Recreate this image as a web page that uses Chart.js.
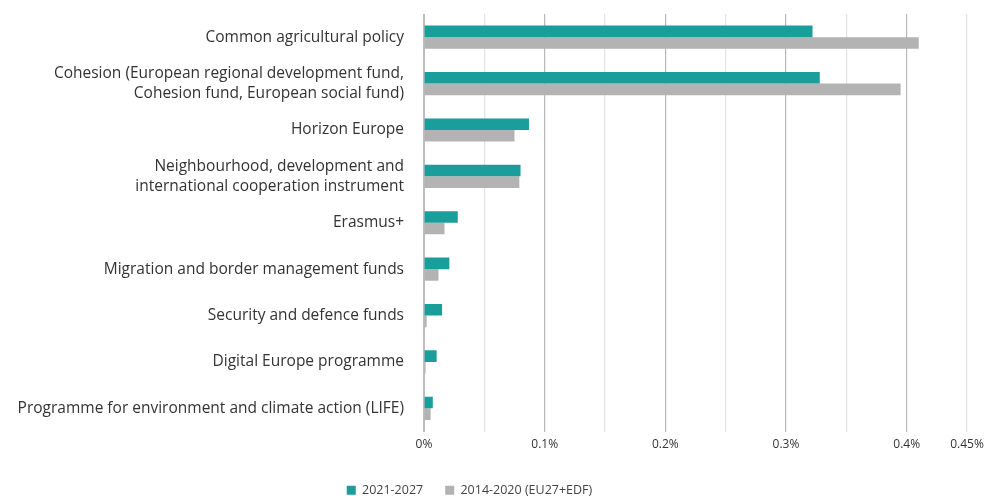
<!DOCTYPE html>
<html>
<head>
<meta charset="utf-8">
<script src="https://cdn.jsdelivr.net/npm/chart.js@4"></script>
<style>
  html, body { margin: 0; padding: 0; background: #fff; }
  #wrap { width: 994px; height: 496px; }
</style>
</head>
<body>
<div id="wrap"><canvas id="eu"></canvas></div>
<script>
const categories = [
  'Common agricultural policy',
  ['Cohesion (European regional development fund,', 'Cohesion fund, European social fund)'],
  'Horizon Europe',
  ['Neighbourhood, development and', 'international cooperation instrument'],
  'Erasmus+',
  'Migration and border management funds',
  'Security and defence funds',
  'Digital Europe programme',
  'Programme for environment and climate action (LIFE)'
];
const seriesNames = ['2021-2027', '2014-2020 (EU27+EDF)'];
const values2021 = [0.322, 0.328, 0.087, 0.080, 0.028, 0.021, 0.015, 0.0105, 0.0073];
const values2014 = [0.410, 0.395, 0.075, 0.079, 0.017, 0.012, 0.0022, 0.0013, 0.0055];
const tickLabels = ['0%', '0.1%', '0.2%', '0.3%', '0.4%', '0.45%'];

const labelAt = (v) => {
  const k = Math.round(v * 100);
  if (k % 10 === 0 || k === 45) return tickLabels[k === 45 ? 5 : k / 10];
  return '';
};

// wide gap between legend items but keep the legend box short,
// and nudge it a bit left like the original
const legendShift = {
  id: 'legendShift',
  beforeLayout(chart) {
    const lg = chart.legend;
    if (!lg || lg._patched) return;
    const fit = lg.fit;
    lg.fit = function () { fit.call(this); this.height -= 14; };
    lg._patched = true;
  },
  afterLayout(chart) {
    const lg = chart.legend;
    if (!lg) return;
    lg.top = chart.height - 34; lg.bottom = chart.height;
    lg.left -= 14; lg.right -= 14;
  }
};

const ctx = document.querySelector('#eu');
new Chart(ctx, {
  type: 'bar',
  data: {
    labels: categories,
    datasets: [
      { label: seriesNames[0], data: values2021, backgroundColor: '#1a9e9c' },
      { label: seriesNames[1], data: values2014, backgroundColor: '#b3b3b3' }
    ]
  },
  plugins: [legendShift],
  options: {
    indexAxis: 'y',
    responsive: true,
    maintainAspectRatio: false,
    animation: false,
    layout: { padding: { top: 14, right: 27, left: 0, bottom: 0 } },
    datasets: { bar: { categoryPercentage: 0.5, barPercentage: 1 } },
    plugins: {
      tooltip: { enabled: false },
      legend: {
        position: 'bottom',
        labels: {
          boxWidth: 9, boxHeight: 9, padding: 22,
          color: '#444',
          font: { family: 'Open Sans', size: 12.5 }
        }
      }
    },
    scales: {
      x: {
        min: 0, max: 0.45,
        ticks: {
          stepSize: 0.05,
          autoSkip: false,
          maxRotation: 0,
          padding: 6,
          color: '#333',
          font: { family: 'Open Sans', size: 12 },
          callback: (v) => labelAt(v)
        },
        grid: {
          drawTicks: false,
          color: (c) => {
            const k = Math.round(c.tick.value * 100);
            if (k === 0) return '#bdbdbd';
            return k % 10 === 0 ? '#b8b8b8' : '#e2e2e2';
          },
          lineWidth: 1.2
        },
        border: { display: false },
        afterFit: (scale) => { scale.height = 34; }
      },
      y: {
        ticks: {
          padding: 20,
          color: '#333',
          font: { family: 'Open Sans', size: 15.5, lineHeight: 1.3 }
        },
        grid: { display: false, drawTicks: false },
        border: { color: '#bdbdbd' },
        afterFit: (scale) => {
          scale.width = 424;
          scale.paddingTop = 0;
          scale.paddingBottom = 0;
        }
      }
    }
  }
});
</script>
</body>
</html>
